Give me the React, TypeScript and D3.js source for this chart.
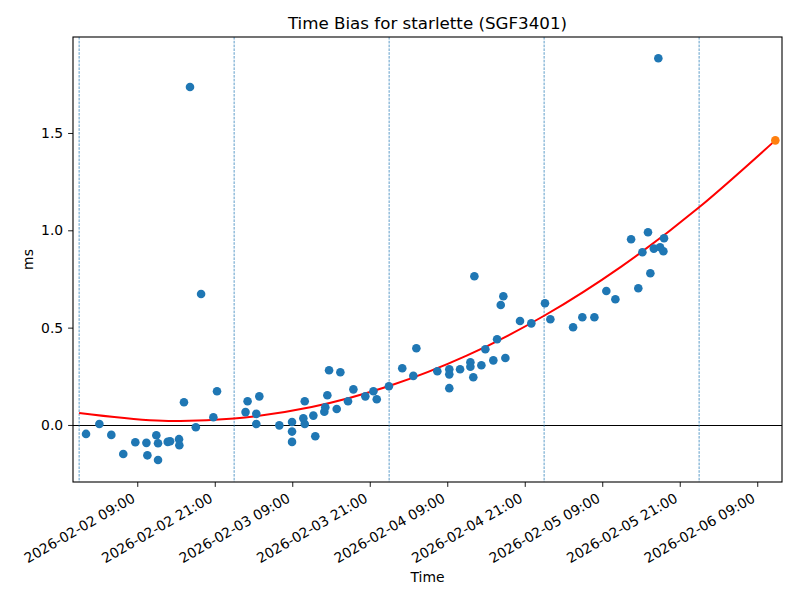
import React, { useRef, useEffect } from 'react';
import * as d3 from 'd3';

// Measured time bias samples (UTC) and their values in ms
const sampleTimes = [
  '2026-02-02 01:04', '2026-02-02 03:08', '2026-02-02 04:59', '2026-02-02 06:50', '2026-02-02 08:42',
  '2026-02-02 10:25', '2026-02-02 10:34', '2026-02-02 11:57', '2026-02-02 12:13', '2026-02-02 12:13',
  '2026-02-02 13:43', '2026-02-02 14:05', '2026-02-02 15:28', '2026-02-02 15:31', '2026-02-02 16:14',
  '2026-02-02 17:10', '2026-02-02 18:04', '2026-02-02 18:53', '2026-02-02 20:47', '2026-02-02 21:21',
  '2026-02-03 01:46', '2026-02-03 02:05', '2026-02-03 03:26', '2026-02-03 03:26', '2026-02-03 03:54',
  '2026-02-03 07:00', '2026-02-03 08:58', '2026-02-03 08:58', '2026-02-03 08:58', '2026-02-03 10:43',
  '2026-02-03 10:56', '2026-02-03 10:56', '2026-02-03 12:16', '2026-02-03 12:34', '2026-02-03 13:58',
  '2026-02-03 14:07', '2026-02-03 14:26', '2026-02-03 14:42', '2026-02-03 15:53', '2026-02-03 16:27',
  '2026-02-03 17:38', '2026-02-03 18:28', '2026-02-03 20:19', '2026-02-03 21:34', '2026-02-03 22:05',
  '2026-02-03 23:58', '2026-02-04 02:02', '2026-02-04 03:45', '2026-02-04 04:13', '2026-02-04 07:28',
  '2026-02-04 09:19', '2026-02-04 09:19', '2026-02-04 09:19', '2026-02-04 10:59', '2026-02-04 12:35',
  '2026-02-04 12:35', '2026-02-04 13:02', '2026-02-04 13:12', '2026-02-04 14:17', '2026-02-04 14:54',
  '2026-02-04 16:08', '2026-02-04 16:43', '2026-02-04 17:17', '2026-02-04 17:41', '2026-02-04 18:00',
  '2026-02-04 20:16', '2026-02-04 22:01', '2026-02-05 00:08', '2026-02-05 00:58', '2026-02-05 04:29',
  '2026-02-05 05:55', '2026-02-05 07:47', '2026-02-05 09:38', '2026-02-05 11:02', '2026-02-05 13:28',
  '2026-02-05 14:35', '2026-02-05 15:13', '2026-02-05 16:05', '2026-02-05 16:27', '2026-02-05 16:59',
  '2026-02-05 17:41', '2026-02-05 17:57', '2026-02-05 18:28', '2026-02-05 18:34',
];
const biasMs = [
  -0.046, 0.005, -0.051, -0.149, -0.089,
  -0.092, -0.156, -0.053, -0.094, -0.180,
  -0.087, -0.084, -0.073, -0.104, 0.117,
  1.736, -0.012, 0.673, 0.040, 0.173,
  0.066, 0.122, 0.057, 0.005, 0.147,
  -0.002, 0.015, -0.034, -0.087, 0.034,
  0.122, 0.005, 0.048, -0.058, 0.068,
  0.091, 0.153, 0.281, 0.082, 0.271,
  0.122, 0.183, 0.147, 0.173, 0.132,
  0.199, 0.291, 0.252, 0.394, 0.276,
  0.286, 0.260, 0.189, 0.286, 0.322,
  0.299, 0.245, 0.764, 0.307, 0.389,
  0.332, 0.440, 0.616, 0.661, 0.344,
  0.534, 0.522, 0.625, 0.543, 0.502,
  0.553, 0.553, 0.688, 0.646, 0.954,
  0.702, 0.887, 0.990, 0.779, 0.906,
  1.884, 0.913, 0.892, 0.959,
];

// Fitted trend
const fitTimes = [
  '2026-02-02 00:00', '2026-02-02 12:00', '2026-02-03 00:00', '2026-02-03 12:00', '2026-02-04 00:00',
  '2026-02-04 12:00', '2026-02-05 00:00', '2026-02-05 12:00', '2026-02-06 00:00', '2026-02-06 11:48',
];
const fitMs = [0.062, 0.023, 0.033, 0.092, 0.200, 0.356, 0.561, 0.815, 1.118, 1.462];

// Predicted point at end of fit
const predTime = '2026-02-06 11:48';
const predMs = 1.462;

const dayLines = ['2026-02-02 00:00', '2026-02-03 00:00', '2026-02-04 00:00', '2026-02-05 00:00', '2026-02-06 00:00'];
const xTickLabels = [
  '2026-02-02 09:00', '2026-02-02 21:00', '2026-02-03 09:00', '2026-02-03 21:00', '2026-02-04 09:00',
  '2026-02-04 21:00', '2026-02-05 09:00', '2026-02-05 21:00', '2026-02-06 09:00',
];
const yTicks = [0, 0.5, 1.0, 1.5];
const xLimits = ['2026-02-01 23:03', '2026-02-06 12:50'];
const yLimits = [-0.293, 1.993];

const parse = d3.utcParse('%Y-%m-%d %H:%M');
const FONT = '"DejaVu Sans", sans-serif';

export default function App() {
  const ref = useRef<SVGSVGElement>(null);

  useEffect(() => {
    if (!ref.current) return;
    drawChart(ref.current);
  }, []);

  return (
    <svg
      ref={ref}
      width={800}
      height={600}
      style={{ position: 'absolute', left: 0, top: 0, background: '#fff' }}
    />
  );
}

function drawChart(svgElement: SVGSVGElement) {
  const margin = { top: 37, right: 18, bottom: 118, left: 73 };
  const width = 800 - margin.left - margin.right;
  const height = 600 - margin.top - margin.bottom;

  const svg = d3.select(svgElement);
  svg.selectAll('*').remove();

  const x = d3.scaleUtc()
    .domain([parse(xLimits[0])!, parse(xLimits[1])!])
    .range([0, width]);

  const y = d3.scaleLinear()
    .domain(yLimits)
    .range([height, 0]);

  const g = svg.append('g')
    .attr('transform', `translate(${margin.left},${margin.top})`);

  // zero line
  g.append('line')
    .attr('x1', 0).attr('x2', width)
    .attr('y1', Math.round(y(0)) + 0.5).attr('y2', Math.round(y(0)) + 0.5)
    .attr('stroke', '#000').attr('stroke-width', 1);

  // day separators
  g.selectAll('.day')
    .data(dayLines)
    .enter()
    .append('line')
    .attr('class', 'day')
    .attr('x1', (d) => x(parse(d)!)).attr('x2', (d) => x(parse(d)!))
    .attr('y1', 0).attr('y2', height)
    .attr('stroke', '#1f77b4')
    .attr('stroke-opacity', 0.9)
    .attr('stroke-width', 0.8)
    .attr('stroke-dasharray', '2.6,1.2');

  // fit curve
  const line = d3.line<number>()
    .x((_, i) => x(parse(fitTimes[i])!))
    .y((d) => y(d))
    .curve(d3.curveNatural);

  g.append('path')
    .datum(fitMs)
    .attr('d', line)
    .attr('fill', 'none')
    .attr('stroke', 'red')
    .attr('stroke-width', 2);

  // samples
  g.selectAll('.pt')
    .data(biasMs)
    .enter()
    .append('circle')
    .attr('class', 'pt')
    .attr('cx', (_, i) => x(parse(sampleTimes[i])!))
    .attr('cy', (d) => y(d))
    .attr('r', 4.3)
    .attr('fill', '#1f77b4');

  g.append('circle')
    .attr('cx', x(parse(predTime)!))
    .attr('cy', y(predMs))
    .attr('r', 4.3)
    .attr('fill', '#ff7f0e');

  // axes
  const xAxis = g.append('g')
    .attr('transform', `translate(0,${height})`)
    .call(
      d3.axisBottom(x)
        .tickValues(xTickLabels.map((d) => parse(d)!))
        .tickFormat((d) => d3.utcFormat('%Y-%m-%d %H:%M')(d as Date))
        .tickSize(4.9)
        .tickSizeOuter(0)
    );
  xAxis.select('.domain').remove();
  xAxis.selectAll('line').attr('stroke', '#000').attr('stroke-width', 0.9);
  xAxis.selectAll('text')
    .attr('y', null)
    .attr('dy', null)
    .attr('text-anchor', 'end')
    .attr('transform', 'translate(-1.6,19) rotate(-30)')
    .attr('fill', '#000')
    .style('font-family', FONT)
    .style('font-size', '13.9px');

  const yAxis = g.append('g')
    .call(
      d3.axisLeft(y)
        .tickValues(yTicks)
        .tickFormat(d3.format('.1f'))
        .tickSize(4.9)
        .tickPadding(4.9)
        .tickSizeOuter(0)
    );
  yAxis.select('.domain').remove();
  yAxis.selectAll('line').attr('stroke', '#000').attr('stroke-width', 0.9);
  yAxis.selectAll('text')
    .attr('fill', '#000')
    .style('font-family', FONT)
    .style('font-size', '13.9px');

  // frame
  g.append('rect')
    .attr('width', width)
    .attr('height', height)
    .attr('fill', 'none')
    .attr('stroke', '#000')
    .attr('stroke-width', 1.1);

  // labels
  svg.append('text')
    .attr('x', margin.left + width / 2)
    .attr('y', 28.7)
    .attr('text-anchor', 'middle')
    .style('font-family', FONT)
    .style('font-size', '16.7px')
    .text('Time Bias for starlette (SGF3401)');

  svg.append('text')
    .attr('x', margin.left + width / 2)
    .attr('y', 582)
    .attr('text-anchor', 'middle')
    .style('font-family', FONT)
    .style('font-size', '13.9px')
    .text('Time');

  svg.append('text')
    .attr('transform', `translate(33,${margin.top + height / 2}) rotate(-90)`)
    .attr('text-anchor', 'middle')
    .style('font-family', FONT)
    .style('font-size', '13.9px')
    .text('ms');
}
